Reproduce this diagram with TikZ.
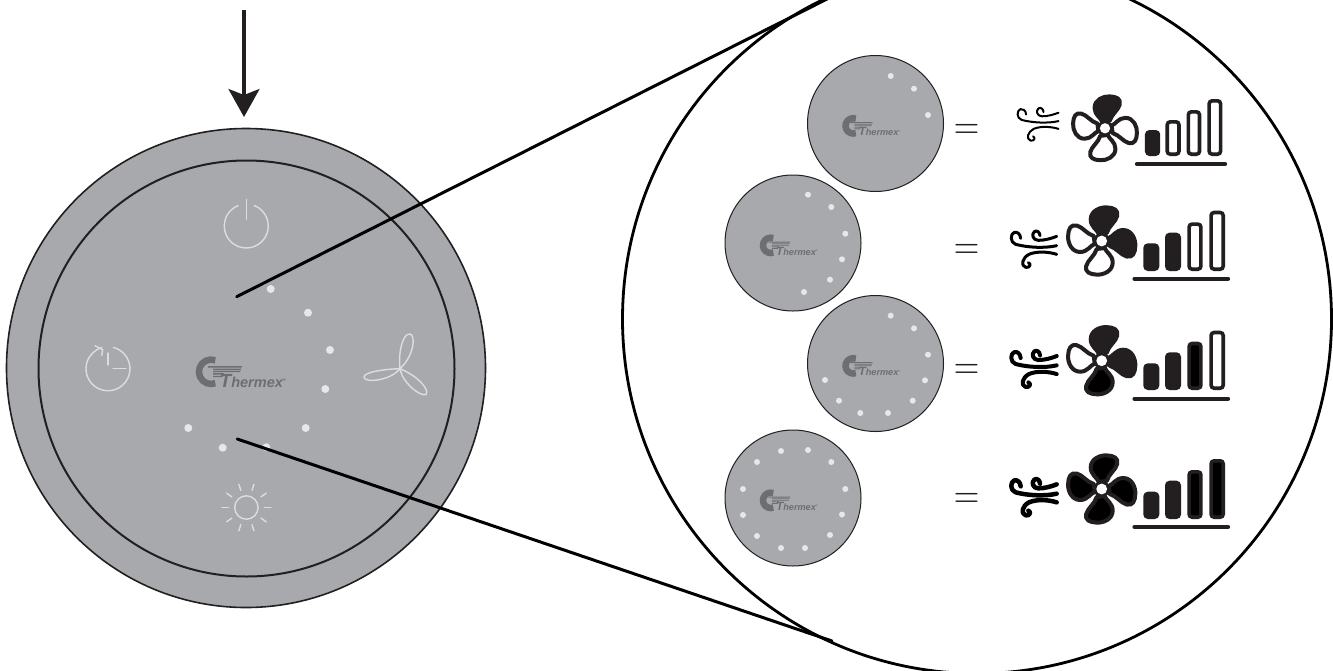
\documentclass[tikz,border=0pt]{standalone}
\usepackage{fontspec}
\setmainfont{Liberation Sans}
\usetikzlibrary{arrows.meta}
\definecolor{panel}{HTML}{A7A9AC}
\definecolor{ink}{HTML}{231F20}
\definecolor{glyph}{HTML}{DCDDDE}
\definecolor{dotc}{HTML}{E6E7E8}
\definecolor{brand}{HTML}{6D6E71}
\tikzset{
  panelface/.style={fill=panel,draw=ink},
  lightline/.style={draw=glyph,line width=1.4pt,line cap=round},
  pointer/.style={draw=black,line width=3pt,line cap=round},
  windline/.style={draw=black,line cap=round,line join=round},
  sigbar/.style={draw=ink,line width=3.6pt,rounded corners=3pt},
  baseline/.style={draw=ink,line width=4.2pt,line cap=round},
  bladeshape/.style={draw=ink,line width=4pt,line join=round},
  eqsign/.style={font=\fontsize{24.88}{26}\selectfont,text=ink,inner sep=0pt,xscale=1.42,yscale=1.7,transform shape},
  brandtext/.style={font=\fontsize{14.5}{15}\selectfont\bfseries\itshape,text=brand,inner sep=0pt,anchor=base west,transform shape},
}
% Thermex logo, origin at its middle
\newcommand{\LogoMark}[4]{%
  \begin{scope}[shift={(#1,#2)},scale=#3]
    \draw[brand,line width=6.5pt] (-25.7,-11.7) arc[start angle=-70,end angle=-290,radius=12.2];
    \fill[brand] (-33,-6) -- (1,-6) -- (0.4,-4.4) -- (-33,-4.4) -- cycle;
    \fill[brand] (-28,-3.4) -- (0.2,-3.4) -- (-0.2,-2) -- (-28,-2) -- cycle;
    \fill[brand] (-28,-1.1) -- (-0.5,-1.1) -- (-0.9,0.2) -- (-28,0.2) -- cycle;
    \fill[brand] (-28,1.2) -- (-17,1.2) -- (-17.4,2.6) -- (-28,2.6) -- cycle;
    \fill[brand] (-28,3.8) -- (-18,3.8) -- (-18.4,5.2) -- (-28,5.2) -- cycle;
    \node[brandtext] (#4) at (-21.5,15.6) {{\fontsize{19}{19}\selectfont T}hermex{\fontsize{4}{4}\selectfont\raisebox{6pt}{®}}};
  \end{scope}}
% wind symbol, in coordinates three times the pixel size
\newcommand{\WindIcon}[4]{%
  \begin{scope}[shift={(#1,#2)},scale=#3]
    \begin{scope}[scale=1/3,windline,line width=#4pt]
      \draw (47,130) .. controls (46,116) and (36,110) .. (28,112) .. controls (16,116) and (14,142) .. (32,148) .. controls (70,158) and (120,160) .. (155,152);
      \draw (105,122) .. controls (105,112) and (95,104) .. (88,110) .. controls (78,118) and (84,136) .. (100,136) .. controls (120,136) and (140,130) .. (155,124);
      \draw (155,178) .. controls (130,170) and (95,168) .. (72,178) .. controls (52,188) and (46,212) .. (62,217) .. controls (74,220) and (80,206) .. (70,203);
    \end{scope}
  \end{scope}}
\newcommand{\FanBlade}[2]{%
  \path[bladeshape,fill=#2,rotate=#1] (-3,-7) .. controls (-4,-11) and (-11,-14) .. (-11,-21.5) .. controls (-11,-30) and (-2,-34) .. (5,-33.6) .. controls (12,-33.4) and (17,-31) .. (15.5,-25) .. controls (14,-19) and (7,-15) .. (5,-8) -- cycle;}
\newcommand{\FanIcon}[7]{%
  \begin{scope}[shift={(#1,#2)},scale=#3]
    \FanBlade{0}{#4}\FanBlade{-90}{#5}\FanBlade{-180}{#6}\FanBlade{-270}{#7}
    \fill[ink] (0,0) circle[radius=8.2];
    \fill[white] (0,0) circle[radius=5.4];
  \end{scope}}
\newcommand{\SigBar}[5]{\path[sigbar,fill=#5] (#1+1.8,#3+1.8) rectangle (#2-1.8,#4-1.8);}
\newcommand{\SigBars}[8]{% four tops, bottom, three fills; fourth fill in \BarD
  \SigBar{1143.3}{1159.3}{#1}{#5}{#6}
  \SigBar{1165}{1181}{#2}{#5}{#7}
  \SigBar{1187.3}{1202.7}{#3}{#5}{#8}
  \SigBar{1209.3}{1225}{#4}{#5}{\BarD}}
\begin{document}
\begin{tikzpicture}[x=1pt,y=-1pt]
\useasboundingbox (0,0) rectangle (1333,670);
\clip (0,0) rectangle (1333,670);
\fill[white] (0,0) rectangle (1333,670);

% lens
\draw[black,line width=2.8pt] (977,319) circle[radius=354.5];

% main panel
\draw[panelface,line width=1.6pt] (246,368) circle[radius=239.5];
\draw[ink,line width=2pt] (246.5,368.5) circle[radius=208];

% power
\draw[lightline] (254.5,205.6) arc[start angle=-68,end angle=248,radius=22];
\draw[lightline] (246.3,199.5) -- (246.3,219.5);

% timer
\draw[lightline] (113.3,347.4) arc[start angle=-76,end angle=254,radius=22];
\draw[lightline] (95,345.7) -- (102.7,349.8) -- (101.7,355.5);
\draw[lightline] (108,353) -- (108,365);
\draw[lightline] (113,368.7) -- (126,368.7);

% three-blade fan
\draw[lightline,line join=round] (400,368.7) .. controls (398,352) and (403,333) .. (410,334) .. controls (416,335) and (414,356) .. (400,368.7)
  .. controls (385,369) and (363,372) .. (364,377.5) .. controls (365,383) and (390,381) .. (400,368.7)
  .. controls (402,382) and (420,397) .. (426,394.5) .. controls (430,390) and (418,376) .. (400,368.7);

% sun
\draw[lightline] (246.4,507.5) circle[radius=11.7];
\foreach \a in {0,36,...,324}
  \draw[lightline,shift={(246.4,507.5)},rotate=\a] (18,0) -- (24.5,0);

\LogoMark{241}{372}{1}{logoMain}

% main dots
\foreach \x/\y in {270.7/289,308/312.7,330/350,325.3/389,305.7/428,266.3/447.3,222.7/447.7,188.3/428}
  \fill[dotc] (\x,\y) circle[radius=4];

% small panels
\foreach \cx/\cy/\lname in {875.5/123.5/logoA,793/243/logoB,875.5/363.5/logoC,793/498/logoD}{
  \draw[panelface,line width=1pt] (\cx,\cy) circle[radius=68];
  \LogoMark{\cx-3.5}{\cy+2.5}{0.63}{\lname}
}
\foreach \x/\y in {15.2/-47.5,38.5/-34.8,52.5/-8.5}
  \fill[dotc,shift={(875.5,123.5)}] (\x,\y) circle[radius=3];
\foreach \x/\y in {15/-48.3,38.3/-36,52.3/-9.3,49/16.3,37/36.7,11/49}
  \fill[dotc,shift={(793,243)}] (\x,\y) circle[radius=3];
\foreach \x/\y in {15.2/-47.8,38.5/-35.2,52.5/-8.8,49.5/16.8,37.2/37.2,12.5/49.5,-15.2/49.5,-36.5/37.2,-50.5/16.5}
  \fill[dotc,shift={(875.5,363.5)}] (\x,\y) circle[radius=3];
\foreach \x/\y in {15/-48,38.3/-36,52.3/-9,49/16.5,37/37,12/50,-12/50,-36/38,-50/17,-50/-9,-36/-36,-12/-47}
  \fill[dotc,shift={(793,498)}] (\x,\y) circle[radius=3];

% equals signs
\node[eqsign] (eqA) at (966.6,132) {$=$};
\node[eqsign] (eqB) at (966.6,252.3) {$=$};
\node[eqsign] (eqC) at (966.6,371.8) {$=$};
\node[eqsign] (eqD) at (966.6,501.3) {$=$};

% row A
\WindIcon{1012}{75.5}{0.9}{2}
\FanIcon{1105}{128.3}{0.95}{ink}{white}{white}{white}
\begin{scope}[shift={(1145,0)},xscale=0.946,shift={(-1143.3,0)}]
\def\BarD{white}\SigBars{130}{120}{110}{99}{156}{ink}{white}{white}
\end{scope}
\draw[baseline] (1137,164) -- (1225,164);

% row B
\WindIcon{1005}{195}{1}{3}
\FanIcon{1101.7}{241}{1}{ink}{ink}{white}{white}
\def\BarD{white}\SigBars{243.3}{232.7}{222.3}{210.7}{271}{ink}{ink}{white}
\draw[baseline] (1134.5,278.7) -- (1228,278.7);

% row C
\WindIcon{1005}{314.7}{1}{4}
\FanIcon{1101.7}{360.7}{1}{ink}{ink}{black}{white}
\def\BarD{white}\SigBars{363.3}{352.3}{341.7}{330.7}{390}{ink}{ink}{black}
\draw[baseline] (1134.5,398.7) -- (1228,398.7);

% row D
\WindIcon{1005}{443}{1}{4.5}
\FanIcon{1101.7}{489}{1}{black}{black}{black}{black}
\def\BarD{black}\SigBars{491.7}{480.7}{470}{459}{519}{ink}{ink}{black}
\draw[baseline] (1134.5,527) -- (1228,527);

% pointers
\coordinate (upperFrom) at (236.7,296.7);
\coordinate (upperTo) at (830,-2.5);
\coordinate (lowerFrom) at (237.3,439);
\coordinate (lowerTo) at (832,641);
\draw[pointer] (upperFrom) -- (upperTo);
\draw[pointer] (lowerFrom) -- (lowerTo);

% arrow
\coordinate (arrowFrom) at (244,10);
\coordinate (arrowTo) at (244,117);
\draw[ink,line width=3.2pt,-{Stealth[length=28pt,width=31pt,inset=6pt]}] (arrowFrom) -- (arrowTo);
\end{tikzpicture}
\end{document}
